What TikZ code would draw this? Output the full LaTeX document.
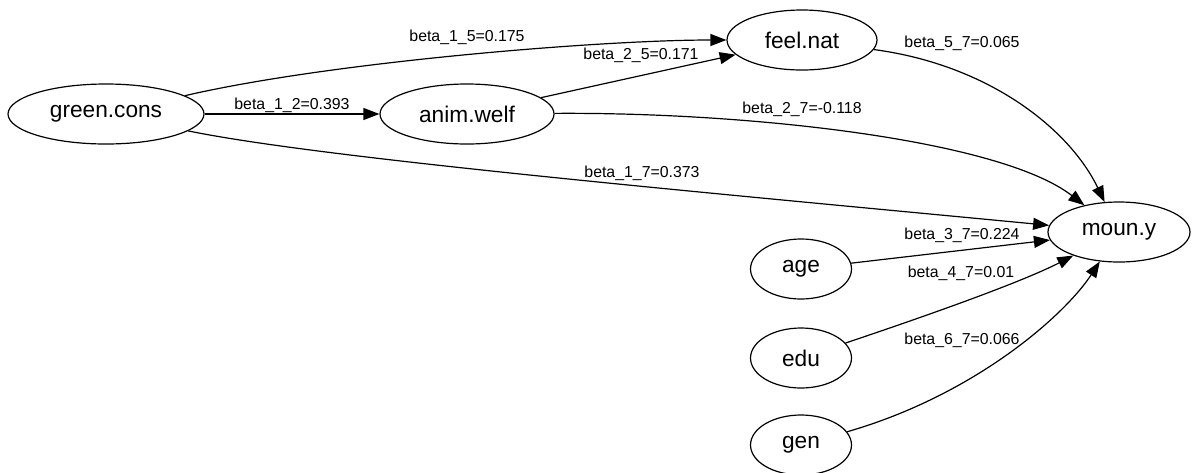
\documentclass[tikz,border=0pt]{standalone}
\usepackage{fontspec}
\setmainfont{Liberation Sans}
\usetikzlibrary{shapes.geometric,arrows.meta}
\begin{document}
\begin{tikzpicture}[x=0.75pt,y=-0.75pt,
  var/.style={draw,ellipse,line width=0.9pt,inner sep=0pt,minimum height=45pt,font=\fontsize{17}{20}\selectfont},
  lab/.style={inner sep=0pt,font=\fontsize{11.9}{14}\selectfont},
  edge/.style={line width=0.9pt,-{Triangle[length=12pt,width=9pt]}}]
\useasboundingbox (0,0) rectangle (1192,472);
% nodes
\node[var,minimum width=147pt] (gc) at (106,114) {green.cons};
\node[var,minimum width=130.5pt] (aw) at (467,114) {anim.welf};
\node[var,minimum width=112.5pt] (fn) at (802,40) {feel.nat};
\node[var,minimum width=106.5pt] (my) at (1119,232) {moun.y};
\node[var,minimum width=75.75pt] (age) at (801,269) {age};
\node[var,minimum width=75.75pt] (edu) at (801,358) {edu};
\node[var,minimum width=75.75pt] (gen) at (801,445) {gen};
% edges
\draw[edge] (gc) -- (aw);
\draw[edge] (gc) .. controls (330,62) and (600,40) .. (fn);
\draw[edge] (aw) -- (fn);
\draw[edge] (aw) .. controls (750,112) and (1000,140) .. (my);
\draw[edge] (gc) .. controls (320,158) and (700,192) .. (my);
\draw[edge] (fn) .. controls (990,65) and (1070,130) .. (my);
\draw[edge] (age) -- (my);
\draw[edge] (edu) .. controls (920,318) and (1020,283) .. (my);
\draw[edge] (gen) .. controls (975,395) and (1065,315) .. (my);
% labels
\node[lab] (l12) at (292,105) {beta\_1\_2=0.393};
\node[lab] (l15) at (467,37) {beta\_1\_5=0.175};
\node[lab] (l25) at (641,55) {beta\_2\_5=0.171};
\node[lab] (l27) at (802,109) {beta\_2\_7=-0.118};
\node[lab] (l17) at (642,173) {beta\_1\_7=0.373};
\node[lab] (l57) at (962,43) {beta\_5\_7=0.065};
\node[lab] (l37) at (962,235) {beta\_3\_7=0.224};
\node[lab] (l47) at (961,273) {beta\_4\_7=0.01};
\node[lab] (l67) at (962,340) {beta\_6\_7=0.066};
\end{tikzpicture}
\end{document}
